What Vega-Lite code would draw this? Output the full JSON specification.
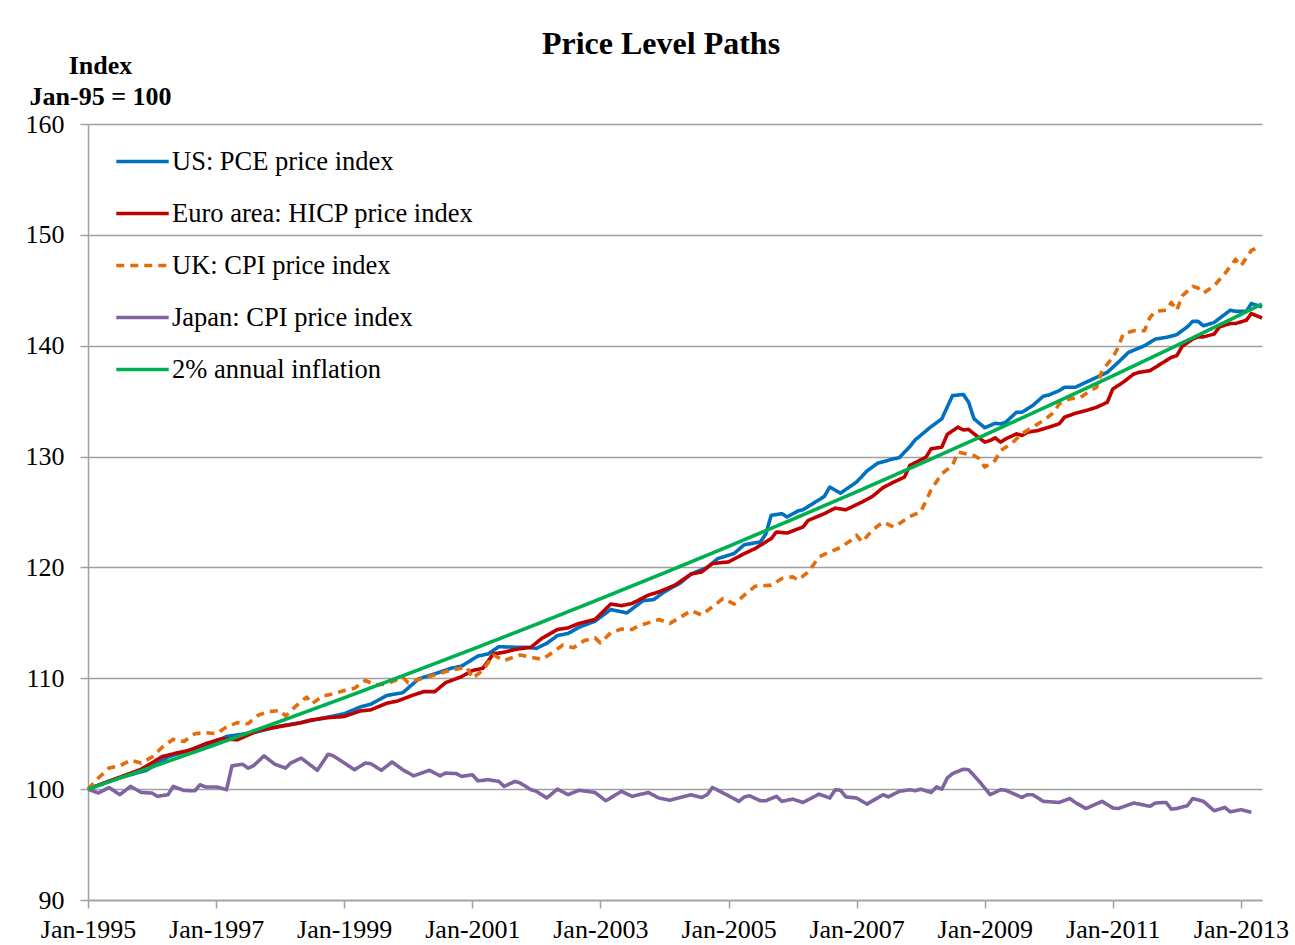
{
"$schema": "https://vega.github.io/schema/vega-lite/v6.json",
"width": 1174,
"height": 776,
"autosize": {"type": "none"},
"padding": {"left": 88, "top": 124, "right": 33, "bottom": 45},
"background": "white",
"config": {"font": "Liberation Serif", "view": {"stroke": null}},
"title": {"text": "Price Level Paths", "font": "Liberation Serif", "fontSize": 32, "fontWeight": "bold", "color": "black", "anchor": "middle", "frame": "group", "dx": -14, "dy": 34, "offset": 0, "baseline": "alphabetic"},
"data": {"values": [
{"series":"US: PCE price index","date":"1995-01-01","value":100},
{"series":"US: PCE price index","date":"1995-06-01","value":100.9},
{"series":"US: PCE price index","date":"1995-12-01","value":101.7},
{"series":"US: PCE price index","date":"1996-04-01","value":102.9},
{"series":"US: PCE price index","date":"1996-08-01","value":103.5},
{"series":"US: PCE price index","date":"1996-12-01","value":104.1},
{"series":"US: PCE price index","date":"1997-03-01","value":104.75},
{"series":"US: PCE price index","date":"1997-08-01","value":105.1},
{"series":"US: PCE price index","date":"1998-01-01","value":105.7},
{"series":"US: PCE price index","date":"1998-05-01","value":106.0},
{"series":"US: PCE price index","date":"1998-10-01","value":106.5},
{"series":"US: PCE price index","date":"1999-01-01","value":106.8},
{"series":"US: PCE price index","date":"1999-04-01","value":107.4},
{"series":"US: PCE price index","date":"1999-06-01","value":107.65},
{"series":"US: PCE price index","date":"1999-09-01","value":108.45},
{"series":"US: PCE price index","date":"1999-12-01","value":108.7},
{"series":"US: PCE price index","date":"2000-03-01","value":109.95},
{"series":"US: PCE price index","date":"2000-06-01","value":110.4},
{"series":"US: PCE price index","date":"2000-09-01","value":110.9},
{"series":"US: PCE price index","date":"2000-11-01","value":111.1},
{"series":"US: PCE price index","date":"2001-02-01","value":112.0},
{"series":"US: PCE price index","date":"2001-04-01","value":112.2},
{"series":"US: PCE price index","date":"2001-06-01","value":112.85},
{"series":"US: PCE price index","date":"2001-09-01","value":112.8},
{"series":"US: PCE price index","date":"2001-11-01","value":112.8},
{"series":"US: PCE price index","date":"2002-01-01","value":112.7},
{"series":"US: PCE price index","date":"2002-03-01","value":113.15},
{"series":"US: PCE price index","date":"2002-05-01","value":113.85},
{"series":"US: PCE price index","date":"2002-07-01","value":114.05},
{"series":"US: PCE price index","date":"2002-09-01","value":114.6},
{"series":"US: PCE price index","date":"2002-12-01","value":115.15},
{"series":"US: PCE price index","date":"2003-03-01","value":116.2},
{"series":"US: PCE price index","date":"2003-06-01","value":115.9},
{"series":"US: PCE price index","date":"2003-09-01","value":117.0},
{"series":"US: PCE price index","date":"2003-11-01","value":117.1},
{"series":"US: PCE price index","date":"2004-01-01","value":117.8},
{"series":"US: PCE price index","date":"2004-04-01","value":118.6},
{"series":"US: PCE price index","date":"2004-06-01","value":119.4},
{"series":"US: PCE price index","date":"2004-09-01","value":120.0},
{"series":"US: PCE price index","date":"2004-11-01","value":120.8},
{"series":"US: PCE price index","date":"2005-02-01","value":121.25},
{"series":"US: PCE price index","date":"2005-04-01","value":122.05},
{"series":"US: PCE price index","date":"2005-07-01","value":122.3},
{"series":"US: PCE price index","date":"2005-08-01","value":123.0},
{"series":"US: PCE price index","date":"2005-09-01","value":124.7},
{"series":"US: PCE price index","date":"2005-11-01","value":124.85},
{"series":"US: PCE price index","date":"2005-12-01","value":124.55},
{"series":"US: PCE price index","date":"2006-02-01","value":125.1},
{"series":"US: PCE price index","date":"2006-03-01","value":125.2},
{"series":"US: PCE price index","date":"2006-05-01","value":125.8},
{"series":"US: PCE price index","date":"2006-07-01","value":126.4},
{"series":"US: PCE price index","date":"2006-08-01","value":127.25},
{"series":"US: PCE price index","date":"2006-10-01","value":126.7},
{"series":"US: PCE price index","date":"2007-01-01","value":127.7},
{"series":"US: PCE price index","date":"2007-03-01","value":128.7},
{"series":"US: PCE price index","date":"2007-05-01","value":129.4},
{"series":"US: PCE price index","date":"2007-08-01","value":129.8},
{"series":"US: PCE price index","date":"2007-09-01","value":129.9},
{"series":"US: PCE price index","date":"2007-11-01","value":130.9},
{"series":"US: PCE price index","date":"2007-12-01","value":131.5},
{"series":"US: PCE price index","date":"2008-03-01","value":132.7},
{"series":"US: PCE price index","date":"2008-05-01","value":133.4},
{"series":"US: PCE price index","date":"2008-07-01","value":135.5},
{"series":"US: PCE price index","date":"2008-09-01","value":135.6},
{"series":"US: PCE price index","date":"2008-10-01","value":134.9},
{"series":"US: PCE price index","date":"2008-11-01","value":133.4},
{"series":"US: PCE price index","date":"2009-01-01","value":132.6},
{"series":"US: PCE price index","date":"2009-03-01","value":133.0},
{"series":"US: PCE price index","date":"2009-04-01","value":132.95},
{"series":"US: PCE price index","date":"2009-05-01","value":133.1},
{"series":"US: PCE price index","date":"2009-07-01","value":134.0},
{"series":"US: PCE price index","date":"2009-08-01","value":134.0},
{"series":"US: PCE price index","date":"2009-10-01","value":134.6},
{"series":"US: PCE price index","date":"2009-12-01","value":135.45},
{"series":"US: PCE price index","date":"2010-01-01","value":135.55},
{"series":"US: PCE price index","date":"2010-03-01","value":135.95},
{"series":"US: PCE price index","date":"2010-04-01","value":136.25},
{"series":"US: PCE price index","date":"2010-06-01","value":136.25},
{"series":"US: PCE price index","date":"2010-08-01","value":136.7},
{"series":"US: PCE price index","date":"2010-10-01","value":137.15},
{"series":"US: PCE price index","date":"2010-12-01","value":137.6},
{"series":"US: PCE price index","date":"2011-02-01","value":138.5},
{"series":"US: PCE price index","date":"2011-04-01","value":139.4},
{"series":"US: PCE price index","date":"2011-06-01","value":139.8},
{"series":"US: PCE price index","date":"2011-07-01","value":140.0},
{"series":"US: PCE price index","date":"2011-09-01","value":140.6},
{"series":"US: PCE price index","date":"2011-11-01","value":140.75},
{"series":"US: PCE price index","date":"2012-01-01","value":141.0},
{"series":"US: PCE price index","date":"2012-03-01","value":141.7},
{"series":"US: PCE price index","date":"2012-04-01","value":142.2},
{"series":"US: PCE price index","date":"2012-05-01","value":142.2},
{"series":"US: PCE price index","date":"2012-06-01","value":141.8},
{"series":"US: PCE price index","date":"2012-08-01","value":142.1},
{"series":"US: PCE price index","date":"2012-11-01","value":143.2},
{"series":"US: PCE price index","date":"2012-12-01","value":143.1},
{"series":"US: PCE price index","date":"2013-02-01","value":143.1},
{"series":"US: PCE price index","date":"2013-03-01","value":143.8},
{"series":"US: PCE price index","date":"2013-05-01","value":143.5},
{"series":"Euro area: HICP price index","date":"1995-01-01","value":100},
{"series":"Euro area: HICP price index","date":"1995-06-01","value":100.9},
{"series":"Euro area: HICP price index","date":"1995-11-01","value":101.8},
{"series":"Euro area: HICP price index","date":"1996-03-01","value":102.95},
{"series":"Euro area: HICP price index","date":"1996-06-01","value":103.3},
{"series":"Euro area: HICP price index","date":"1996-08-01","value":103.5},
{"series":"Euro area: HICP price index","date":"1996-11-01","value":104.1},
{"series":"Euro area: HICP price index","date":"1997-02-01","value":104.55},
{"series":"Euro area: HICP price index","date":"1997-05-01","value":104.45},
{"series":"Euro area: HICP price index","date":"1997-09-01","value":105.3},
{"series":"Euro area: HICP price index","date":"1998-01-01","value":105.65},
{"series":"Euro area: HICP price index","date":"1998-04-01","value":105.9},
{"series":"Euro area: HICP price index","date":"1998-07-01","value":106.25},
{"series":"Euro area: HICP price index","date":"1998-10-01","value":106.45},
{"series":"Euro area: HICP price index","date":"1999-01-01","value":106.55},
{"series":"Euro area: HICP price index","date":"1999-04-01","value":107.05},
{"series":"Euro area: HICP price index","date":"1999-06-01","value":107.15},
{"series":"Euro area: HICP price index","date":"1999-09-01","value":107.75},
{"series":"Euro area: HICP price index","date":"1999-11-01","value":107.95},
{"series":"Euro area: HICP price index","date":"2000-02-01","value":108.5},
{"series":"Euro area: HICP price index","date":"2000-04-01","value":108.8},
{"series":"Euro area: HICP price index","date":"2000-06-01","value":108.8},
{"series":"Euro area: HICP price index","date":"2000-08-01","value":109.6},
{"series":"Euro area: HICP price index","date":"2000-11-01","value":110.15},
{"series":"Euro area: HICP price index","date":"2001-01-01","value":110.7},
{"series":"Euro area: HICP price index","date":"2001-03-01","value":110.9},
{"series":"Euro area: HICP price index","date":"2001-05-01","value":112.2},
{"series":"Euro area: HICP price index","date":"2001-07-01","value":112.35},
{"series":"Euro area: HICP price index","date":"2001-09-01","value":112.6},
{"series":"Euro area: HICP price index","date":"2001-12-01","value":112.8},
{"series":"Euro area: HICP price index","date":"2002-02-01","value":113.6},
{"series":"Euro area: HICP price index","date":"2002-05-01","value":114.4},
{"series":"Euro area: HICP price index","date":"2002-07-01","value":114.55},
{"series":"Euro area: HICP price index","date":"2002-09-01","value":114.95},
{"series":"Euro area: HICP price index","date":"2002-12-01","value":115.3},
{"series":"Euro area: HICP price index","date":"2003-03-01","value":116.7},
{"series":"Euro area: HICP price index","date":"2003-05-01","value":116.55},
{"series":"Euro area: HICP price index","date":"2003-07-01","value":116.75},
{"series":"Euro area: HICP price index","date":"2003-10-01","value":117.5},
{"series":"Euro area: HICP price index","date":"2003-12-01","value":117.8},
{"series":"Euro area: HICP price index","date":"2004-03-01","value":118.4},
{"series":"Euro area: HICP price index","date":"2004-06-01","value":119.4},
{"series":"Euro area: HICP price index","date":"2004-08-01","value":119.6},
{"series":"Euro area: HICP price index","date":"2004-10-01","value":120.35},
{"series":"Euro area: HICP price index","date":"2005-01-01","value":120.5},
{"series":"Euro area: HICP price index","date":"2005-04-01","value":121.25},
{"series":"Euro area: HICP price index","date":"2005-06-01","value":121.7},
{"series":"Euro area: HICP price index","date":"2005-09-01","value":122.6},
{"series":"Euro area: HICP price index","date":"2005-10-01","value":123.2},
{"series":"Euro area: HICP price index","date":"2005-12-01","value":123.1},
{"series":"Euro area: HICP price index","date":"2006-03-01","value":123.65},
{"series":"Euro area: HICP price index","date":"2006-04-01","value":124.25},
{"series":"Euro area: HICP price index","date":"2006-07-01","value":124.85},
{"series":"Euro area: HICP price index","date":"2006-09-01","value":125.35},
{"series":"Euro area: HICP price index","date":"2006-11-01","value":125.2},
{"series":"Euro area: HICP price index","date":"2007-02-01","value":125.9},
{"series":"Euro area: HICP price index","date":"2007-04-01","value":126.4},
{"series":"Euro area: HICP price index","date":"2007-06-01","value":127.2},
{"series":"Euro area: HICP price index","date":"2007-08-01","value":127.7},
{"series":"Euro area: HICP price index","date":"2007-10-01","value":128.15},
{"series":"Euro area: HICP price index","date":"2007-11-01","value":129.2},
{"series":"Euro area: HICP price index","date":"2008-02-01","value":129.95},
{"series":"Euro area: HICP price index","date":"2008-03-01","value":130.7},
{"series":"Euro area: HICP price index","date":"2008-05-01","value":130.85},
{"series":"Euro area: HICP price index","date":"2008-06-01","value":132.0},
{"series":"Euro area: HICP price index","date":"2008-08-01","value":132.65},
{"series":"Euro area: HICP price index","date":"2008-09-01","value":132.4},
{"series":"Euro area: HICP price index","date":"2008-10-01","value":132.45},
{"series":"Euro area: HICP price index","date":"2008-11-01","value":132.05},
{"series":"Euro area: HICP price index","date":"2009-01-01","value":131.3},
{"series":"Euro area: HICP price index","date":"2009-02-01","value":131.45},
{"series":"Euro area: HICP price index","date":"2009-03-01","value":131.7},
{"series":"Euro area: HICP price index","date":"2009-04-01","value":131.3},
{"series":"Euro area: HICP price index","date":"2009-05-01","value":131.6},
{"series":"Euro area: HICP price index","date":"2009-07-01","value":132.05},
{"series":"Euro area: HICP price index","date":"2009-08-01","value":131.9},
{"series":"Euro area: HICP price index","date":"2009-09-01","value":132.2},
{"series":"Euro area: HICP price index","date":"2009-11-01","value":132.35},
{"series":"Euro area: HICP price index","date":"2010-01-01","value":132.65},
{"series":"Euro area: HICP price index","date":"2010-03-01","value":132.95},
{"series":"Euro area: HICP price index","date":"2010-04-01","value":133.55},
{"series":"Euro area: HICP price index","date":"2010-06-01","value":133.9},
{"series":"Euro area: HICP price index","date":"2010-08-01","value":134.15},
{"series":"Euro area: HICP price index","date":"2010-10-01","value":134.45},
{"series":"Euro area: HICP price index","date":"2010-12-01","value":134.9},
{"series":"Euro area: HICP price index","date":"2011-01-01","value":136.1},
{"series":"Euro area: HICP price index","date":"2011-03-01","value":136.7},
{"series":"Euro area: HICP price index","date":"2011-05-01","value":137.45},
{"series":"Euro area: HICP price index","date":"2011-06-01","value":137.6},
{"series":"Euro area: HICP price index","date":"2011-08-01","value":137.75},
{"series":"Euro area: HICP price index","date":"2011-10-01","value":138.35},
{"series":"Euro area: HICP price index","date":"2011-12-01","value":138.95},
{"series":"Euro area: HICP price index","date":"2012-01-01","value":139.1},
{"series":"Euro area: HICP price index","date":"2012-02-01","value":139.95},
{"series":"Euro area: HICP price index","date":"2012-04-01","value":140.6},
{"series":"Euro area: HICP price index","date":"2012-05-01","value":140.8},
{"series":"Euro area: HICP price index","date":"2012-06-01","value":140.8},
{"series":"Euro area: HICP price index","date":"2012-08-01","value":141.05},
{"series":"Euro area: HICP price index","date":"2012-09-01","value":141.7},
{"series":"Euro area: HICP price index","date":"2012-11-01","value":142.0},
{"series":"Euro area: HICP price index","date":"2012-12-01","value":142.0},
{"series":"Euro area: HICP price index","date":"2013-02-01","value":142.3},
{"series":"Euro area: HICP price index","date":"2013-03-01","value":142.9},
{"series":"Euro area: HICP price index","date":"2013-04-01","value":142.7},
{"series":"Euro area: HICP price index","date":"2013-05-01","value":142.5},
{"series":"UK: CPI price index","date":"1995-01-01","value":100},
{"series":"UK: CPI price index","date":"1995-03-01","value":101.0},
{"series":"UK: CPI price index","date":"1995-05-01","value":101.9},
{"series":"UK: CPI price index","date":"1995-07-01","value":102.1},
{"series":"UK: CPI price index","date":"1995-09-01","value":102.6},
{"series":"UK: CPI price index","date":"1995-11-01","value":102.35},
{"series":"UK: CPI price index","date":"1996-01-01","value":102.9},
{"series":"UK: CPI price index","date":"1996-03-01","value":103.8},
{"series":"UK: CPI price index","date":"1996-05-01","value":104.5},
{"series":"UK: CPI price index","date":"1996-07-01","value":104.3},
{"series":"UK: CPI price index","date":"1996-09-01","value":105.0},
{"series":"UK: CPI price index","date":"1996-11-01","value":105.1},
{"series":"UK: CPI price index","date":"1997-01-01","value":105.0},
{"series":"UK: CPI price index","date":"1997-03-01","value":105.6},
{"series":"UK: CPI price index","date":"1997-05-01","value":106.0},
{"series":"UK: CPI price index","date":"1997-07-01","value":105.9},
{"series":"UK: CPI price index","date":"1997-09-01","value":106.7},
{"series":"UK: CPI price index","date":"1997-11-01","value":107.0},
{"series":"UK: CPI price index","date":"1998-01-01","value":107.1},
{"series":"UK: CPI price index","date":"1998-02-01","value":106.6},
{"series":"UK: CPI price index","date":"1998-04-01","value":107.5},
{"series":"UK: CPI price index","date":"1998-06-01","value":108.3},
{"series":"UK: CPI price index","date":"1998-07-01","value":107.7},
{"series":"UK: CPI price index","date":"1998-09-01","value":108.4},
{"series":"UK: CPI price index","date":"1998-11-01","value":108.6},
{"series":"UK: CPI price index","date":"1999-01-01","value":108.9},
{"series":"UK: CPI price index","date":"1999-03-01","value":109.1},
{"series":"UK: CPI price index","date":"1999-05-01","value":109.8},
{"series":"UK: CPI price index","date":"1999-07-01","value":109.4},
{"series":"UK: CPI price index","date":"1999-09-01","value":109.5},
{"series":"UK: CPI price index","date":"1999-12-01","value":110.1},
{"series":"UK: CPI price index","date":"2000-01-01","value":109.6},
{"series":"UK: CPI price index","date":"2000-03-01","value":109.9},
{"series":"UK: CPI price index","date":"2000-06-01","value":110.3},
{"series":"UK: CPI price index","date":"2000-09-01","value":110.75},
{"series":"UK: CPI price index","date":"2000-12-01","value":111.0},
{"series":"UK: CPI price index","date":"2001-01-01","value":110.0},
{"series":"UK: CPI price index","date":"2001-03-01","value":110.7},
{"series":"UK: CPI price index","date":"2001-05-01","value":112.1},
{"series":"UK: CPI price index","date":"2001-07-01","value":111.6},
{"series":"UK: CPI price index","date":"2001-10-01","value":112.1},
{"series":"UK: CPI price index","date":"2001-12-01","value":111.9},
{"series":"UK: CPI price index","date":"2002-02-01","value":111.7},
{"series":"UK: CPI price index","date":"2002-04-01","value":112.3},
{"series":"UK: CPI price index","date":"2002-06-01","value":113.0},
{"series":"UK: CPI price index","date":"2002-08-01","value":112.75},
{"series":"UK: CPI price index","date":"2002-10-01","value":113.4},
{"series":"UK: CPI price index","date":"2002-12-01","value":113.65},
{"series":"UK: CPI price index","date":"2003-01-01","value":113.2},
{"series":"UK: CPI price index","date":"2003-03-01","value":114.1},
{"series":"UK: CPI price index","date":"2003-05-01","value":114.45},
{"series":"UK: CPI price index","date":"2003-07-01","value":114.4},
{"series":"UK: CPI price index","date":"2003-08-01","value":114.7},
{"series":"UK: CPI price index","date":"2003-10-01","value":115.0},
{"series":"UK: CPI price index","date":"2003-12-01","value":115.3},
{"series":"UK: CPI price index","date":"2004-02-01","value":114.95},
{"series":"UK: CPI price index","date":"2004-04-01","value":115.5},
{"series":"UK: CPI price index","date":"2004-06-01","value":116.1},
{"series":"UK: CPI price index","date":"2004-08-01","value":115.7},
{"series":"UK: CPI price index","date":"2004-10-01","value":116.45},
{"series":"UK: CPI price index","date":"2004-12-01","value":117.2},
{"series":"UK: CPI price index","date":"2005-02-01","value":116.7},
{"series":"UK: CPI price index","date":"2005-04-01","value":117.5},
{"series":"UK: CPI price index","date":"2005-06-01","value":118.3},
{"series":"UK: CPI price index","date":"2005-09-01","value":118.4},
{"series":"UK: CPI price index","date":"2005-11-01","value":119.0},
{"series":"UK: CPI price index","date":"2006-01-01","value":119.15},
{"series":"UK: CPI price index","date":"2006-02-01","value":118.85},
{"series":"UK: CPI price index","date":"2006-04-01","value":119.6},
{"series":"UK: CPI price index","date":"2006-06-01","value":120.95},
{"series":"UK: CPI price index","date":"2006-08-01","value":121.4},
{"series":"UK: CPI price index","date":"2006-10-01","value":121.8},
{"series":"UK: CPI price index","date":"2006-12-01","value":122.45},
{"series":"UK: CPI price index","date":"2007-01-01","value":122.9},
{"series":"UK: CPI price index","date":"2007-02-01","value":122.3},
{"series":"UK: CPI price index","date":"2007-04-01","value":123.35},
{"series":"UK: CPI price index","date":"2007-06-01","value":124.1},
{"series":"UK: CPI price index","date":"2007-08-01","value":123.65},
{"series":"UK: CPI price index","date":"2007-09-01","value":123.95},
{"series":"UK: CPI price index","date":"2007-11-01","value":124.6},
{"series":"UK: CPI price index","date":"2008-01-01","value":125.0},
{"series":"UK: CPI price index","date":"2008-02-01","value":126.0},
{"series":"UK: CPI price index","date":"2008-03-01","value":127.0},
{"series":"UK: CPI price index","date":"2008-05-01","value":128.45},
{"series":"UK: CPI price index","date":"2008-07-01","value":129.2},
{"series":"UK: CPI price index","date":"2008-08-01","value":130.4},
{"series":"UK: CPI price index","date":"2008-11-01","value":130.1},
{"series":"UK: CPI price index","date":"2008-12-01","value":129.8},
{"series":"UK: CPI price index","date":"2009-01-01","value":129.05},
{"series":"UK: CPI price index","date":"2009-03-01","value":129.65},
{"series":"UK: CPI price index","date":"2009-04-01","value":130.55},
{"series":"UK: CPI price index","date":"2009-06-01","value":131.15},
{"series":"UK: CPI price index","date":"2009-08-01","value":132.05},
{"series":"UK: CPI price index","date":"2009-10-01","value":132.65},
{"series":"UK: CPI price index","date":"2009-12-01","value":133.25},
{"series":"UK: CPI price index","date":"2010-02-01","value":134.0},
{"series":"UK: CPI price index","date":"2010-03-01","value":134.75},
{"series":"UK: CPI price index","date":"2010-05-01","value":135.2},
{"series":"UK: CPI price index","date":"2010-07-01","value":135.35},
{"series":"UK: CPI price index","date":"2010-09-01","value":136.0},
{"series":"UK: CPI price index","date":"2010-10-01","value":136.25},
{"series":"UK: CPI price index","date":"2010-11-01","value":137.75},
{"series":"UK: CPI price index","date":"2011-01-01","value":138.95},
{"series":"UK: CPI price index","date":"2011-02-01","value":139.85},
{"series":"UK: CPI price index","date":"2011-03-01","value":141.05},
{"series":"UK: CPI price index","date":"2011-05-01","value":141.35},
{"series":"UK: CPI price index","date":"2011-07-01","value":141.35},
{"series":"UK: CPI price index","date":"2011-08-01","value":142.55},
{"series":"UK: CPI price index","date":"2011-09-01","value":143.1},
{"series":"UK: CPI price index","date":"2011-11-01","value":143.2},
{"series":"UK: CPI price index","date":"2011-12-01","value":143.9},
{"series":"UK: CPI price index","date":"2012-01-01","value":143.2},
{"series":"UK: CPI price index","date":"2012-02-01","value":144.5},
{"series":"UK: CPI price index","date":"2012-04-01","value":145.35},
{"series":"UK: CPI price index","date":"2012-05-01","value":145.2},
{"series":"UK: CPI price index","date":"2012-06-01","value":144.75},
{"series":"UK: CPI price index","date":"2012-08-01","value":145.4},
{"series":"UK: CPI price index","date":"2012-10-01","value":146.5},
{"series":"UK: CPI price index","date":"2012-12-01","value":147.8},
{"series":"UK: CPI price index","date":"2013-01-01","value":147.2},
{"series":"UK: CPI price index","date":"2013-03-01","value":148.6},
{"series":"UK: CPI price index","date":"2013-04-01","value":148.8},
{"series":"Japan: CPI price index","date":"1995-01-01","value":100},
{"series":"Japan: CPI price index","date":"1995-03-01","value":99.65},
{"series":"Japan: CPI price index","date":"1995-05-01","value":100.15},
{"series":"Japan: CPI price index","date":"1995-07-01","value":99.5},
{"series":"Japan: CPI price index","date":"1995-09-01","value":100.25},
{"series":"Japan: CPI price index","date":"1995-11-01","value":99.7},
{"series":"Japan: CPI price index","date":"1996-01-01","value":99.65},
{"series":"Japan: CPI price index","date":"1996-02-01","value":99.35},
{"series":"Japan: CPI price index","date":"1996-04-01","value":99.5},
{"series":"Japan: CPI price index","date":"1996-05-01","value":100.25},
{"series":"Japan: CPI price index","date":"1996-07-01","value":99.88},
{"series":"Japan: CPI price index","date":"1996-09-01","value":99.85},
{"series":"Japan: CPI price index","date":"1996-10-01","value":100.4},
{"series":"Japan: CPI price index","date":"1996-11-01","value":100.2},
{"series":"Japan: CPI price index","date":"1997-01-01","value":100.2},
{"series":"Japan: CPI price index","date":"1997-03-01","value":99.95},
{"series":"Japan: CPI price index","date":"1997-04-01","value":102.1},
{"series":"Japan: CPI price index","date":"1997-06-01","value":102.25},
{"series":"Japan: CPI price index","date":"1997-07-01","value":101.9},
{"series":"Japan: CPI price index","date":"1997-08-01","value":102.1},
{"series":"Japan: CPI price index","date":"1997-10-01","value":103.0},
{"series":"Japan: CPI price index","date":"1997-12-01","value":102.25},
{"series":"Japan: CPI price index","date":"1998-02-01","value":101.9},
{"series":"Japan: CPI price index","date":"1998-03-01","value":102.35},
{"series":"Japan: CPI price index","date":"1998-05-01","value":102.8},
{"series":"Japan: CPI price index","date":"1998-08-01","value":101.7},
{"series":"Japan: CPI price index","date":"1998-10-01","value":103.15},
{"series":"Japan: CPI price index","date":"1998-11-01","value":103.0},
{"series":"Japan: CPI price index","date":"1999-03-01","value":101.75},
{"series":"Japan: CPI price index","date":"1999-05-01","value":102.35},
{"series":"Japan: CPI price index","date":"1999-06-01","value":102.3},
{"series":"Japan: CPI price index","date":"1999-08-01","value":101.7},
{"series":"Japan: CPI price index","date":"1999-10-01","value":102.45},
{"series":"Japan: CPI price index","date":"1999-12-01","value":101.75},
{"series":"Japan: CPI price index","date":"2000-02-01","value":101.2},
{"series":"Japan: CPI price index","date":"2000-05-01","value":101.7},
{"series":"Japan: CPI price index","date":"2000-07-01","value":101.2},
{"series":"Japan: CPI price index","date":"2000-08-01","value":101.45},
{"series":"Japan: CPI price index","date":"2000-10-01","value":101.4},
{"series":"Japan: CPI price index","date":"2000-11-01","value":101.15},
{"series":"Japan: CPI price index","date":"2001-01-01","value":101.3},
{"series":"Japan: CPI price index","date":"2001-02-01","value":100.75},
{"series":"Japan: CPI price index","date":"2001-04-01","value":100.85},
{"series":"Japan: CPI price index","date":"2001-06-01","value":100.7},
{"series":"Japan: CPI price index","date":"2001-07-01","value":100.25},
{"series":"Japan: CPI price index","date":"2001-09-01","value":100.7},
{"series":"Japan: CPI price index","date":"2001-10-01","value":100.55},
{"series":"Japan: CPI price index","date":"2001-12-01","value":99.95},
{"series":"Japan: CPI price index","date":"2002-01-01","value":99.8},
{"series":"Japan: CPI price index","date":"2002-03-01","value":99.2},
{"series":"Japan: CPI price index","date":"2002-05-01","value":100.0},
{"series":"Japan: CPI price index","date":"2002-07-01","value":99.5},
{"series":"Japan: CPI price index","date":"2002-09-01","value":99.9},
{"series":"Japan: CPI price index","date":"2002-12-01","value":99.7},
{"series":"Japan: CPI price index","date":"2003-02-01","value":98.95},
{"series":"Japan: CPI price index","date":"2003-05-01","value":99.8},
{"series":"Japan: CPI price index","date":"2003-07-01","value":99.35},
{"series":"Japan: CPI price index","date":"2003-10-01","value":99.7},
{"series":"Japan: CPI price index","date":"2003-12-01","value":99.2},
{"series":"Japan: CPI price index","date":"2004-02-01","value":99.0},
{"series":"Japan: CPI price index","date":"2004-04-01","value":99.25},
{"series":"Japan: CPI price index","date":"2004-06-01","value":99.5},
{"series":"Japan: CPI price index","date":"2004-08-01","value":99.25},
{"series":"Japan: CPI price index","date":"2004-09-01","value":99.5},
{"series":"Japan: CPI price index","date":"2004-10-01","value":100.15},
{"series":"Japan: CPI price index","date":"2005-01-01","value":99.4},
{"series":"Japan: CPI price index","date":"2005-03-01","value":98.9},
{"series":"Japan: CPI price index","date":"2005-04-01","value":99.3},
{"series":"Japan: CPI price index","date":"2005-05-01","value":99.4},
{"series":"Japan: CPI price index","date":"2005-07-01","value":98.95},
{"series":"Japan: CPI price index","date":"2005-08-01","value":98.95},
{"series":"Japan: CPI price index","date":"2005-10-01","value":99.35},
{"series":"Japan: CPI price index","date":"2005-11-01","value":98.9},
{"series":"Japan: CPI price index","date":"2006-01-01","value":99.1},
{"series":"Japan: CPI price index","date":"2006-03-01","value":98.8},
{"series":"Japan: CPI price index","date":"2006-06-01","value":99.55},
{"series":"Japan: CPI price index","date":"2006-08-01","value":99.2},
{"series":"Japan: CPI price index","date":"2006-09-01","value":99.95},
{"series":"Japan: CPI price index","date":"2006-10-01","value":99.9},
{"series":"Japan: CPI price index","date":"2006-11-01","value":99.3},
{"series":"Japan: CPI price index","date":"2007-01-01","value":99.2},
{"series":"Japan: CPI price index","date":"2007-03-01","value":98.65},
{"series":"Japan: CPI price index","date":"2007-06-01","value":99.5},
{"series":"Japan: CPI price index","date":"2007-07-01","value":99.3},
{"series":"Japan: CPI price index","date":"2007-09-01","value":99.8},
{"series":"Japan: CPI price index","date":"2007-11-01","value":99.95},
{"series":"Japan: CPI price index","date":"2007-12-01","value":99.85},
{"series":"Japan: CPI price index","date":"2008-01-01","value":100.0},
{"series":"Japan: CPI price index","date":"2008-03-01","value":99.7},
{"series":"Japan: CPI price index","date":"2008-04-01","value":100.2},
{"series":"Japan: CPI price index","date":"2008-05-01","value":100.0},
{"series":"Japan: CPI price index","date":"2008-06-01","value":101.0},
{"series":"Japan: CPI price index","date":"2008-07-01","value":101.4},
{"series":"Japan: CPI price index","date":"2008-09-01","value":101.8},
{"series":"Japan: CPI price index","date":"2008-10-01","value":101.75},
{"series":"Japan: CPI price index","date":"2008-12-01","value":100.7},
{"series":"Japan: CPI price index","date":"2009-02-01","value":99.5},
{"series":"Japan: CPI price index","date":"2009-04-01","value":99.95},
{"series":"Japan: CPI price index","date":"2009-05-01","value":99.9},
{"series":"Japan: CPI price index","date":"2009-08-01","value":99.25},
{"series":"Japan: CPI price index","date":"2009-09-01","value":99.5},
{"series":"Japan: CPI price index","date":"2009-10-01","value":99.5},
{"series":"Japan: CPI price index","date":"2009-12-01","value":98.9},
{"series":"Japan: CPI price index","date":"2010-03-01","value":98.8},
{"series":"Japan: CPI price index","date":"2010-05-01","value":99.15},
{"series":"Japan: CPI price index","date":"2010-06-01","value":98.8},
{"series":"Japan: CPI price index","date":"2010-08-01","value":98.25},
{"series":"Japan: CPI price index","date":"2010-11-01","value":98.9},
{"series":"Japan: CPI price index","date":"2011-01-01","value":98.3},
{"series":"Japan: CPI price index","date":"2011-02-01","value":98.25},
{"series":"Japan: CPI price index","date":"2011-05-01","value":98.75},
{"series":"Japan: CPI price index","date":"2011-08-01","value":98.45},
{"series":"Japan: CPI price index","date":"2011-09-01","value":98.75},
{"series":"Japan: CPI price index","date":"2011-11-01","value":98.8},
{"series":"Japan: CPI price index","date":"2011-12-01","value":98.2},
{"series":"Japan: CPI price index","date":"2012-01-01","value":98.25},
{"series":"Japan: CPI price index","date":"2012-03-01","value":98.5},
{"series":"Japan: CPI price index","date":"2012-04-01","value":99.15},
{"series":"Japan: CPI price index","date":"2012-06-01","value":98.9},
{"series":"Japan: CPI price index","date":"2012-08-01","value":98.05},
{"series":"Japan: CPI price index","date":"2012-10-01","value":98.35},
{"series":"Japan: CPI price index","date":"2012-11-01","value":97.95},
{"series":"Japan: CPI price index","date":"2013-01-01","value":98.15},
{"series":"Japan: CPI price index","date":"2013-03-01","value":97.9},
{"series":"2% annual inflation","date":"1995-01-01","value":100},
{"series":"2% annual inflation","date":"1996-01-01","value":102.0},
{"series":"2% annual inflation","date":"1997-01-01","value":104.04},
{"series":"2% annual inflation","date":"1998-01-01","value":106.12},
{"series":"2% annual inflation","date":"1999-01-01","value":108.24},
{"series":"2% annual inflation","date":"2000-01-01","value":110.41},
{"series":"2% annual inflation","date":"2001-01-01","value":112.62},
{"series":"2% annual inflation","date":"2002-01-01","value":114.87},
{"series":"2% annual inflation","date":"2003-01-01","value":117.17},
{"series":"2% annual inflation","date":"2004-01-01","value":119.51},
{"series":"2% annual inflation","date":"2005-01-01","value":121.9},
{"series":"2% annual inflation","date":"2006-01-01","value":124.34},
{"series":"2% annual inflation","date":"2007-01-01","value":126.82},
{"series":"2% annual inflation","date":"2008-01-01","value":129.36},
{"series":"2% annual inflation","date":"2009-01-01","value":131.95},
{"series":"2% annual inflation","date":"2010-01-01","value":134.59},
{"series":"2% annual inflation","date":"2011-01-01","value":137.28},
{"series":"2% annual inflation","date":"2012-01-01","value":140.02},
{"series":"2% annual inflation","date":"2013-01-01","value":142.82},
{"series":"2% annual inflation","date":"2013-05-01","value":143.76}
]},
"mark": {"type": "line", "strokeWidth": 3.6, "strokeJoin": "round", "strokeCap": "butt"},
"encoding": {
"x": {"field": "date", "type": "temporal",
 "scale": {"type": "utc", "domain": [{"year": 1995, "month": 1, "date": 1, "utc": true}, {"year": 2013, "month": 5, "date": 1, "utc": true}]},
 "axis": {"title": null, "format": "%b-%Y", "grid": false,
  "values": [{"year":1995,"month":1,"date":1,"utc":true},{"year":1997,"month":1,"date":1,"utc":true},{"year":1999,"month":1,"date":1,"utc":true},{"year":2001,"month":1,"date":1,"utc":true},{"year":2003,"month":1,"date":1,"utc":true},{"year":2005,"month":1,"date":1,"utc":true},{"year":2007,"month":1,"date":1,"utc":true},{"year":2009,"month":1,"date":1,"utc":true},{"year":2011,"month":1,"date":1,"utc":true},{"year":2013,"month":1,"date":1,"utc":true}],
  "labelFont": "Liberation Serif", "labelFontSize": 26, "labelColor": "black", "labelPadding": 8, "labelFlush": false, "labelOverlap": false,
  "domainColor": "#A0A0A0", "domainWidth": 1.5, "tickColor": "#A0A0A0", "tickWidth": 1.5, "tickSize": 8}},
"y": {"field": "value", "type": "quantitative",
 "scale": {"domain": [90, 160], "nice": false, "zero": false},
 "axis": {"values": [90, 100, 110, 120, 130, 140, 150, 160], "grid": true, "gridColor": "#A0A0A0", "gridWidth": 1.5,
  "labelFont": "Liberation Serif", "labelFontSize": 26, "labelColor": "black", "labelPadding": 16,
  "domainColor": "#A0A0A0", "domainWidth": 1.5, "tickColor": "#A0A0A0", "tickWidth": 1.5, "tickSize": 8,
  "title": ["Index", "Jan-95 = 100"], "titleFont": "Liberation Serif", "titleFontSize": 26, "titleFontWeight": "bold", "titleColor": "black",
  "titleAngle": 0, "titleAlign": "center", "titleBaseline": "alphabetic", "titleX": 12, "titleY": -51, "titleLineHeight": 31}},
"color": {"field": "series", "type": "nominal",
 "scale": {"domain": ["US: PCE price index", "Euro area: HICP price index", "UK: CPI price index", "Japan: CPI price index", "2% annual inflation"],
  "range": ["#0070C0", "#C00000", "#E46C0A", "#8064A2", "#00B050"]},
 "legend": {"title": null, "orient": "none", "legendX": 26, "legendY": 9, "padding": 0, "symbolType": "stroke", "symbolSize": 2750, "symbolStrokeWidth": 3.6,
  "labelFont": "Liberation Serif", "labelFontSize": 26.5, "labelColor": "black", "labelLimit": 700, "labelOffset": 1, "rowPadding": 10, "direction": "vertical"}},
"strokeDash": {"field": "series", "type": "nominal",
 "scale": {"domain": ["US: PCE price index", "Euro area: HICP price index", "UK: CPI price index", "Japan: CPI price index", "2% annual inflation"],
  "range": [[1, 0], [1, 0], [8, 6], [1, 0], [1, 0]]}}
}
}
